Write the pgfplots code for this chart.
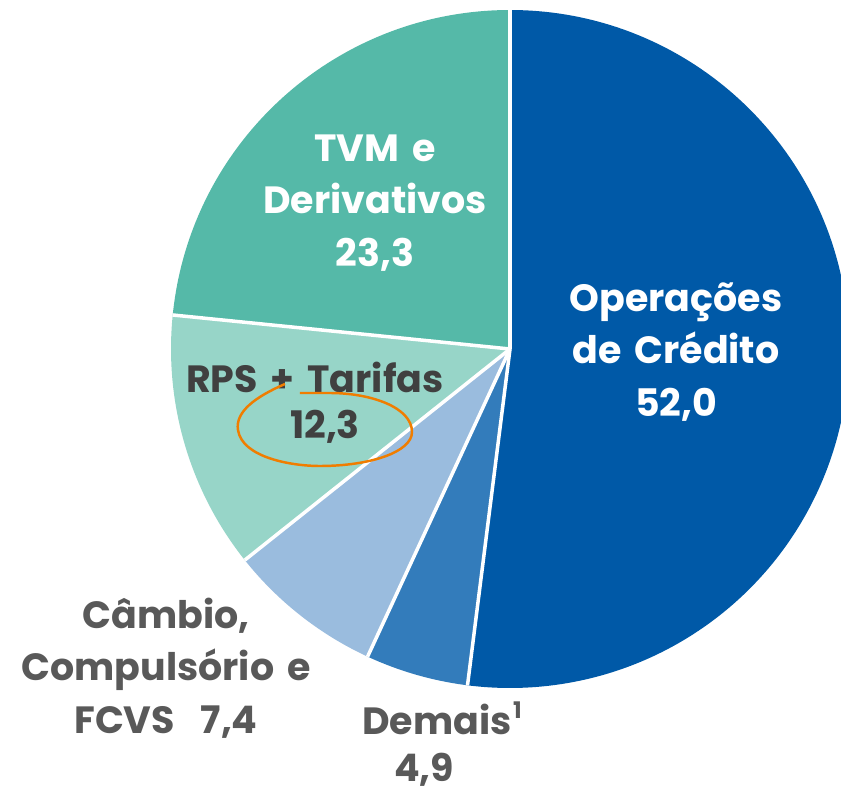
\documentclass[border=0pt]{standalone}
\usepackage{pgfplots}
\pgfplotsset{compat=1.18}
\usepackage{fontspec}
\setmainfont{Poppins}[WordSpace=1.6]

\definecolor{credito}{HTML}{0059A7}
\definecolor{demais}{HTML}{337CBB}
\definecolor{cambio}{HTML}{9ABCDE}
\definecolor{rps}{HTML}{97D5C8}
\definecolor{tvm}{HTML}{55B9A8}
\definecolor{txtdark}{HTML}{404040}
\definecolor{txtgrey}{HTML}{595959}
\definecolor{marca}{HTML}{F07D00}

% shares (%), clockwise from 12 o'clock
\def\vA{52.0}\def\vB{4.9}\def\vC{7.4}\def\vD{12.3}\def\vE{23.3}
\pgfmathsetmacro\aA{90}
\pgfmathsetmacro\aB{\aA-3.6*\vA}
\pgfmathsetmacro\aC{\aB-3.6*\vB}
\pgfmathsetmacro\aD{\aC-3.6*\vC}
\pgfmathsetmacro\aE{\aD-3.6*\vD}
\pgfmathsetmacro\aF{-270}

\newcommand{\slice}[3]{%
  \fill[#3] (axis cs:510,443) -- ++(#1:3.39cm) arc[start angle=#1, end angle=#2, radius=3.39cm] -- cycle;}
\newcommand{\sep}[1]{%
  \draw[white, line width=1pt] (axis cs:510,443) -- ++(#1:3.39cm);}

\begin{document}
\begin{tikzpicture}
\begin{axis}[
  scale only axis, width=8.41cm, height=7.92cm,
  xmin=0, xmax=841, ymin=0, ymax=792,
  hide axis, clip=true,
]
\addplot[draw=none] coordinates {(0,0) (841,792)};
\slice{\aA}{\aB}{credito}
\slice{\aB}{\aC}{demais}
\slice{\aC}{\aD}{cambio}
\slice{\aD}{\aE}{rps}
\slice{\aE}{\aF}{tvm}
\sep{\aA}\sep{\aB}\sep{\aC}\sep{\aD}\sep{\aE}

\tikzset{lbl/.style={font=\fontsize{10.8}{15}\selectfont\bfseries, align=center, inner sep=0pt}}
\node[lbl, text=white] at (axis cs:676,440) {Operações\\de Crédito\\52,0};
\node[lbl, text=white] at (axis cs:375,589) {TVM e\\Derivativos\\23,3};
\node[lbl, text=txtdark] at (axis cs:315,415) {RPS + Tarifas};
\node[lbl, text=txtdark] at (axis cs:325,365) {12,3};
\node[lbl, text=txtgrey] at (axis cs:166,124) {Câmbio,\\Compulsório e\\FCVS\ \ 7,4};
\node[lbl, text=txtgrey] at (axis cs:442,74) {Demais\kern0.5pt{\raisebox{0.75ex}{\fontsize{6.5}{7}\selectfont\bfseries 1}}};
\node[lbl, text=txtgrey] at (axis cs:424,22) {4,9};

\draw[marca, line width=0.7pt] (axis cs:285,408) .. controls (axis cs:255,395) and (axis cs:235,380) .. (axis cs:238,362)
  .. controls (axis cs:242,335) and (axis cs:290,326) .. (axis cs:320,326)
  .. controls (axis cs:370,326) and (axis cs:412,340) .. (axis cs:412,360)
  .. controls (axis cs:412,385) and (axis cs:370,399) .. (axis cs:330,399) -- (axis cs:300,399);
\end{axis}
\end{tikzpicture}
\end{document}
